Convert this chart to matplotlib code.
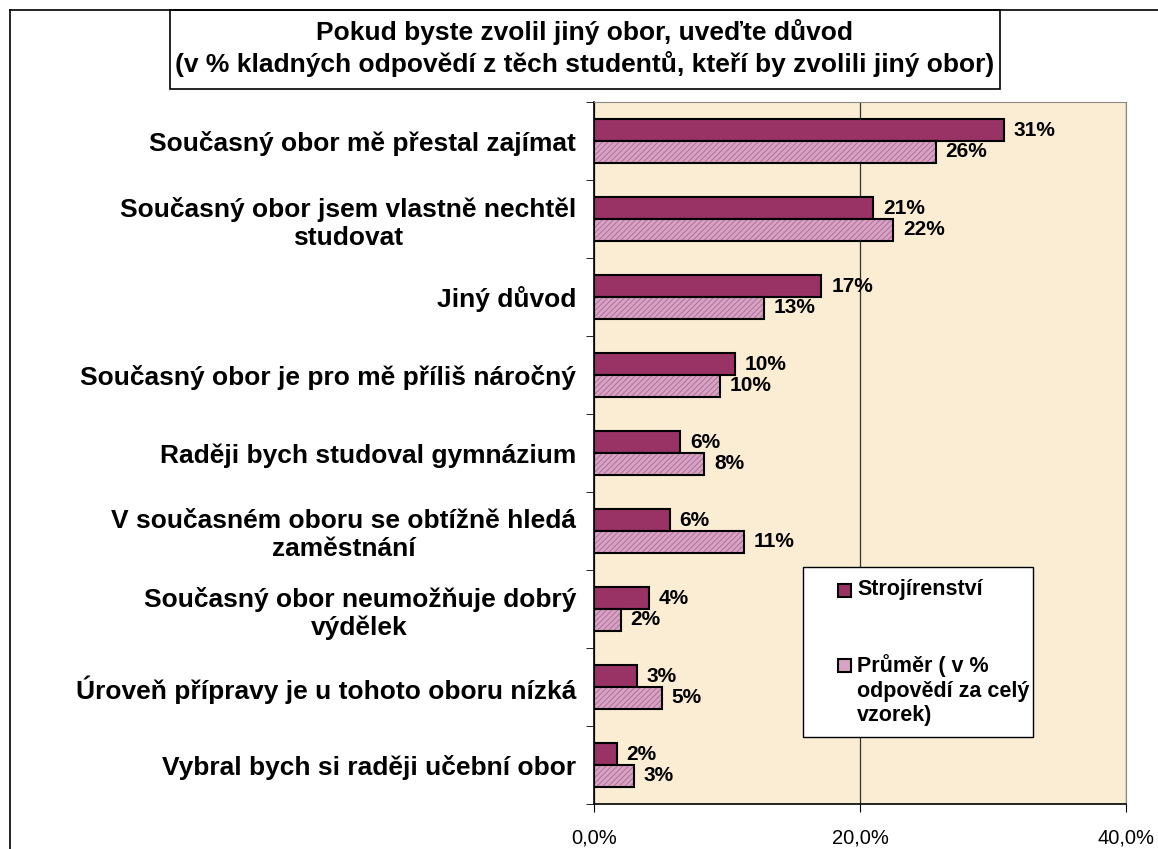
import numpy as np
import matplotlib
matplotlib.use("Agg")
import matplotlib.pyplot as plt
from matplotlib.patches import Rectangle
from matplotlib.lines import Line2D

plt.rcParams['font.family'] = ['Liberation Sans', 'DejaVu Sans']
plt.rcParams['hatch.linewidth'] = 0.6

# data
categories = [
    "Současný obor mě přestal zajímat",
    "Současný obor jsem vlastně nechtěl\nstudovat",
    "Jiný důvod",
    "Současný obor je pro mě příliš náročný",
    "Raději bych studoval gymnázium",
    "V současném oboru se obtížně hledá\nzaměstnání",
    "Současný obor neumožňuje dobrý\nvýdělek",
    "Úroveň přípravy je u tohoto oboru nízká",
    "Vybral bych si raději učební obor",
]
stroj = [30.8, 21.0, 17.1, 10.6, 6.5, 5.7, 4.1, 3.2, 1.7]
prumer = [25.7, 22.5, 12.8, 9.5, 8.3, 11.3, 2.0, 5.1, 3.0]
stroj_labels = ["31%", "21%", "17%", "10%", "6%", "6%", "4%", "3%", "2%"]
prumer_labels = ["26%", "22%", "13%", "10%", "8%", "11%", "2%", "5%", "3%"]
series_names = ["Strojírenství", "Průměr ( v %\nodpovědí za celý\nvzorek)"]
title = ("Pokud byste zvolil jiný obor, uveďte důvod\n"
         "(v % kladných odpovědí z těch studentů, kteří by zvolili jiný obor)")

W, H = 1158, 849
fig = plt.figure(figsize=(W / 100, H / 100), dpi=100)
fig.patch.set_facecolor("white")

ax = fig.add_axes([594 / W, 1 - 804 / H, (1126 - 594) / W, (804 - 102) / H])
ax.set_facecolor("#FBEDD3")

y = np.arange(len(categories))
h = 0.28
col1 = "#993366"
col2 = "#D8A2C4"

ax.barh(y - h / 2, stroj, height=h, color=col1, edgecolor="black", linewidth=1.5, zorder=3)
ax.barh(y + h / 2, prumer, height=h, color=col2, edgecolor="#A86A90", hatch="//////",
        linewidth=0, zorder=3)
ax.barh(y + h / 2, prumer, height=h, fill=False, edgecolor="black", linewidth=1.5, zorder=4)

for i in range(len(categories)):
    ax.annotate(stroj_labels[i], (stroj[i], y[i] - h / 2), xytext=(7, 0), textcoords="offset points",
                va="center", ha="left", fontsize=15, fontweight="bold", zorder=5)
    ax.annotate(prumer_labels[i], (prumer[i], y[i] + h / 2), xytext=(7, 0), textcoords="offset points",
                va="center", ha="left", fontsize=15, fontweight="bold", zorder=5)

ax.set_xlim(0, 40)
ax.set_ylim(len(categories) - 0.5, -0.5)
ax.set_xticks([0, 20, 40])
ax.set_xticklabels(["0,0%", "20,0%", "40,0%"], fontsize=14.5)
ax.xaxis.grid(True, color="#333333", linewidth=0.9, zorder=1)
ax.set_yticks(y)
ax.set_yticklabels(categories, fontsize=19, fontweight="bold", multialignment="center")
ax.tick_params(axis="y", length=0, pad=13)
ax.set_yticks(np.arange(len(categories) + 1) - 0.5, minor=True)
ax.tick_params(axis="y", which="minor", length=6, direction="out", color="black")
ax.tick_params(axis="x", length=6, direction="out", pad=12)
for s in ["top", "right"]:
    ax.spines[s].set_color("#888888")
for s in ["left", "bottom"]:
    ax.spines[s].set_color("black")
    ax.spines[s].set_linewidth(1.2)

# legend box, drawn by hand so the handles sit on the first line of each label
fig.add_artist(Rectangle((803 / W, 1 - 737 / H), 230 / W, 170 / H, facecolor="white",
                         edgecolor="black", linewidth=1.0, zorder=10))
leg_y = [591, 666]
for name, c, yy in zip(series_names, [col1, col2], leg_y):
    fig.add_artist(Rectangle((838 / W, 1 - (yy + 6) / H), 13 / W, 13 / H, facecolor=c,
                             edgecolor="black", linewidth=1.5, zorder=11))
    fig.text(857 / W, 1 - (yy - 12) / H, name, ha="left", va="top", fontsize=15.5,
             fontweight="bold", linespacing=1.22, zorder=12)

# outer frame and title box
fig.add_artist(Line2D([10 / W, 10 / W], [0, 1 - 10 / H], color="black", linewidth=1.2))
fig.add_artist(Line2D([10 / W, 1], [1 - 10 / H, 1 - 10 / H], color="black", linewidth=1.2))
fig.add_artist(Rectangle((170 / W, 1 - 89 / H), (1000 - 170) / W, 79 / H, facecolor="white",
                         edgecolor="black", linewidth=1.2))
fig.text(585 / W, 1 - 48 / H, title, ha="center", va="center", fontsize=19, fontweight="bold",
         linespacing=1.3)

fig.savefig("out.png", dpi=100)
